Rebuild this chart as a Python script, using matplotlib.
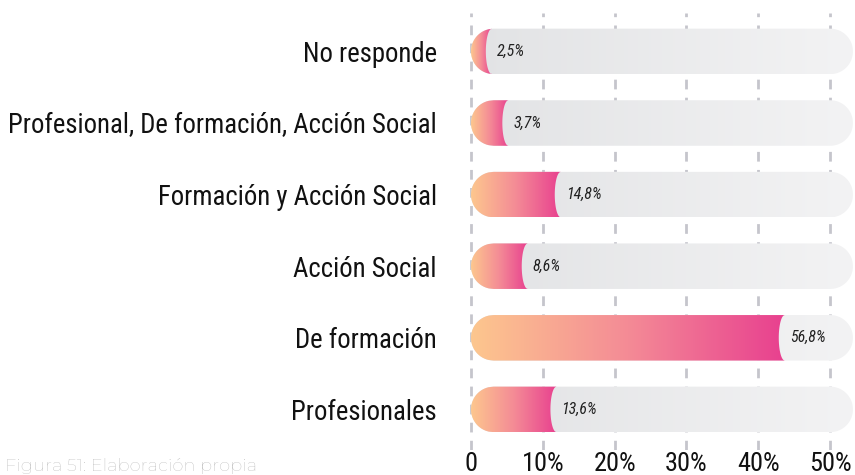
import numpy as np
import matplotlib
matplotlib.use('Agg')
import matplotlib.pyplot as plt
from matplotlib.path import Path
from matplotlib.colors import LinearSegmentedColormap

categorias = ['No responde', 'Profesional, De formación, Acción Social',
              'Formación y Acción Social', 'Acción Social', 'De formación',
              'Profesionales']
etiquetas = ['2,5%', '3,7%', '14,8%', '8,6%', '56,8%', '13,6%']
# longitud de las barras leida sobre el eje del grafico original
largo = [2.9, 5.2, 12.5, 7.9, 43.7, 11.9]
ticks = [0, 10, 20, 30, 40, 50]
tick_labels = ['0', '10%', '20%', '30%', '40%', '50%']
fondo_max = 53.2

fuente = ['Roboto Condensed', 'Archivo Narrow', 'DejaVu Sans']
fuente_pie = ['Montserrat', 'Lato', 'DejaVu Sans']

W, H = 855, 475
fig = plt.figure(figsize=(W / 100, H / 100), dpi=100)
# eje en pixeles: izquierda 460, derecha 855, arriba 13, abajo 450
ax = fig.add_axes([460 / W, 25 / H, 395 / W, 437 / H])

px_x = 7.18   # pixeles por 1%
px_y = 71.6   # pixeles por fila
x0 = -11 / px_x
x1 = 384 / px_x
y_top = 5 + (51.4 - 13) / px_y
y_bot = -(450 - 409.4) / px_y

alto = 45.5 / px_y
ry = alto / 2
rx = ry * px_y / px_x
d = 6 / px_x

cmap_barra = LinearSegmentedColormap.from_list('barra', ['#fdc78e', '#f48b96', '#e8408f'])
cmap_gris = LinearSegmentedColormap.from_list('gris', ['#e2e3e5', '#f3f3f4'])
grad = np.linspace(0, 1, 256).reshape(1, -1)


def capsula(a, b, yc):
    th = np.linspace(np.pi / 2, 3 * np.pi / 2, 60)
    izq = np.column_stack([a + rx + rx * np.cos(th), yc + ry * np.sin(th)])
    th = np.linspace(-np.pi / 2, np.pi / 2, 60)
    der = np.column_stack([b - rx + rx * np.cos(th), yc + ry * np.sin(th)])
    pts = np.vstack([izq, der, izq[:1]])
    return Path(pts, closed=True)


def barra(v, yc):
    t = np.linspace(1, -1, 80)
    s = np.sqrt(1 - t ** 2)
    xl = rx - rx * s
    xr = np.maximum(v - d * s, xl)
    pts = np.vstack([np.column_stack([xl, yc + ry * t]),
                     np.column_stack([xr[::-1], yc + ry * t[::-1]])])
    pts = np.vstack([pts, pts[:1]])
    return Path(pts, closed=True)


n = len(categorias)
ys = [n - 1 - i for i in range(n)]

for v, yc, lab in zip(largo, ys, etiquetas):
    im = ax.imshow(grad, cmap=cmap_gris, aspect='auto', interpolation='bilinear',
                   extent=[0, fondo_max, yc - ry, yc + ry], zorder=2)
    im.set_clip_path(capsula(0, fondo_max, yc), ax.transData)
    im2 = ax.imshow(grad, cmap=cmap_barra, aspect='auto', interpolation='bilinear',
                    extent=[0, v, yc - ry, yc + ry], zorder=3)
    im2.set_clip_path(barra(v, yc), ax.transData)
    ax.text(v + 0.7, yc, lab, ha='left', va='center', fontsize=11.5,
            style='italic', color='#222222', zorder=4, family=fuente)

ax.set_xlim(x0, x1)
ax.set_ylim(y_bot, y_top)

for s in ax.spines.values():
    s.set_visible(False)

ax.set_xticks(ticks)
ax.set_xticklabels(tick_labels, fontsize=19, color='#111111', family=fuente)
ax.set_yticks(ys)
ax.set_yticklabels(categorias, fontsize=19.3, color='#111111', family=fuente)
ax.tick_params(axis='x', length=0, pad=1.5)
ax.tick_params(axis='y', length=0, pad=16.6)
ax.grid(axis='x', color='#c5c5cc', linewidth=2, linestyle=(0, (3.5, 3)), zorder=1)
ax.set_axisbelow(True)
ax.patch.set_alpha(0)

fig.text(5 / W, 0.5 / H, 'Figura 51: Elaboración propia', fontsize=13,
         color='#b4b4b4', family=fuente_pie, fontweight='light',
         ha='left', va='bottom')

fig.savefig('out.png', dpi=100)
